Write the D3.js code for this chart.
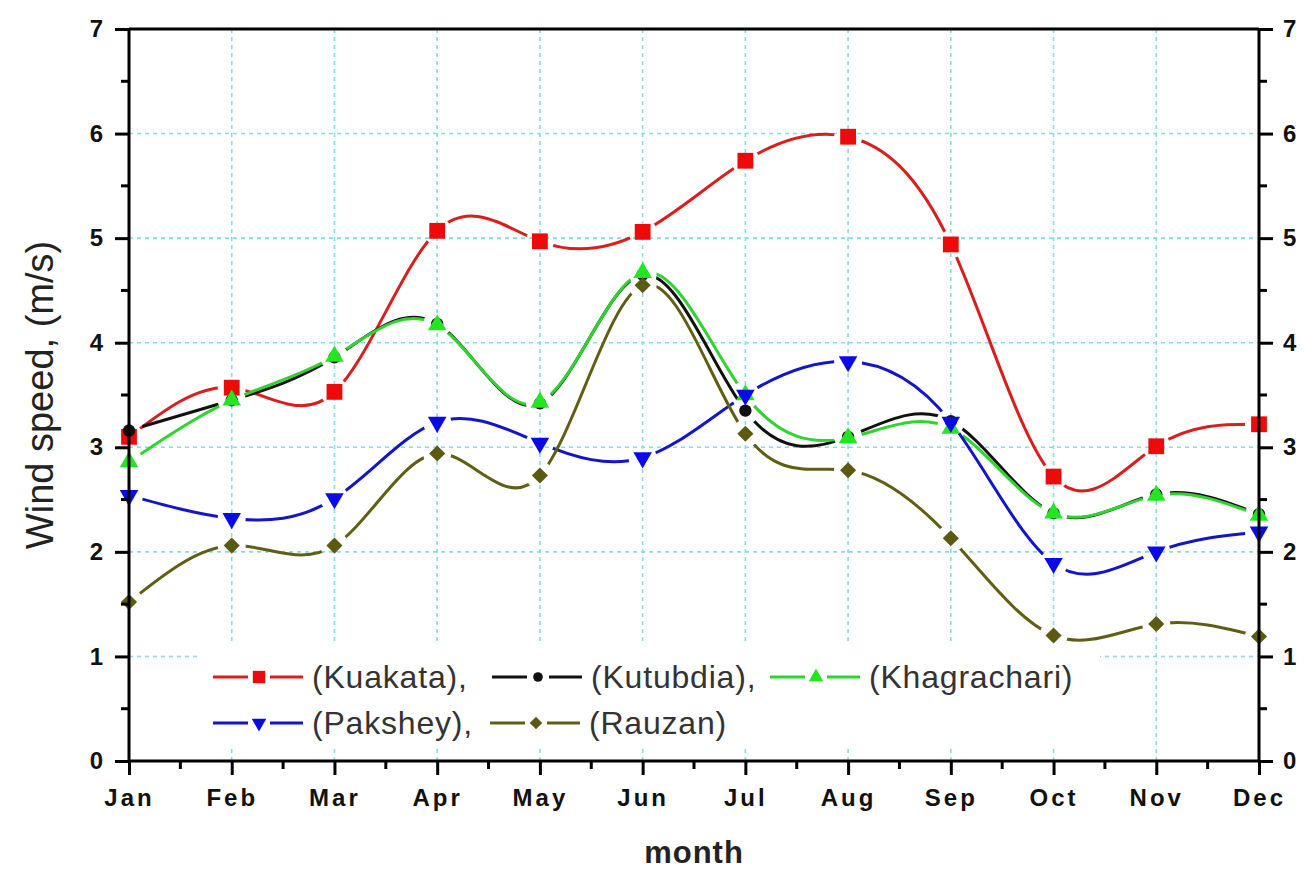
<!DOCTYPE html>
<html>
<head>
<meta charset="utf-8">
<script src="https://cdn.jsdelivr.net/npm/d3@7"></script>
<style>
  body { margin: 0; background: #fff; }
  svg { display: block; font-family: Arial, "Liberation Sans", sans-serif; }
</style>
</head>
<body>
<script>
(function(){

    //chart data
    var months = ["Jan","Feb","Mar","Apr","May","Jun","Jul","Aug","Sep","Oct","Nov","Dec"];
    var kuakata     = [3.10, 3.57, 3.53, 5.07, 4.97, 5.06, 5.74, 5.97, 4.94, 2.72, 3.01, 3.22];
    var kutubdia    = [3.16, 3.45, 3.86, 4.18, 3.42, 4.65, 3.35, 3.10, 3.25, 2.37, 2.55, 2.36];
    var khagrachari = [2.86, 3.45, 3.87, 4.17, 3.43, 4.67, 3.50, 3.09, 3.18, 2.37, 2.54, 2.35];
    var pakshey     = [2.54, 2.32, 2.51, 3.24, 3.04, 2.90, 3.50, 3.82, 3.24, 1.89, 2.00, 2.19];
    var rauzan      = [1.52, 2.06, 2.06, 2.94, 2.73, 4.55, 3.13, 2.78, 2.13, 1.20, 1.31, 1.19];
    var yTicks = [0, 1, 2, 3, 4, 5, 6, 7];
    var seriesNames = ["(Kuakata),", "(Kutubdia),", "(Khagrachari)", "(Pakshey),", "(Rauzan)"];

    //series styles (draw order: red, black, green, blue, olive)
    var series = [
        {name: seriesNames[0], values: kuakata,     line: "#d91e1e", fill: "#ee0a0a", shape: "square"},
        {name: seriesNames[1], values: kutubdia,    line: "#111111", fill: "#111111", shape: "circle"},
        {name: seriesNames[2], values: khagrachari, line: "#2fd42f", fill: "#22e622", shape: "up"},
        {name: seriesNames[3], values: pakshey,     line: "#1414c8", fill: "#0a0ae6", shape: "down"},
        {name: seriesNames[4], values: rauzan,      line: "#5f5f14", fill: "#5a5a12", shape: "diamond"}
    ];

    var width = 1305, height = 871;
    var left = 129, right = 1259, top = 29, bottom = 761;

    var svg = d3.select("body").append("svg")
        .attr("width", width)
        .attr("height", height);

    var x = d3.scalePoint().domain(months).range([left, right]);
    var y = d3.scaleLinear().domain([0, 7]).range([bottom, top]);

    //marker paths
    function symbolPath(shape, big){
        var k = big ? 1 : 0.78;
        if (shape == "square") return d3.symbol(d3.symbolSquare, 250 * k * k)();
        if (shape == "circle") return d3.symbol(d3.symbolCircle, 120 * k * k)();
        if (shape == "diamond") return d3.symbol(d3.symbolSquare, 130 * k * k)();
        return d3.symbol(d3.symbolTriangle, 150 * k * k)();
    }
    function symbolRotate(shape){
        if (shape == "down") return 180;
        if (shape == "diamond") return 45;
        return 0;
    }

    //grid lines
    var grid = svg.append("g").attr("class", "grid")
        .attr("stroke", "#86dde6")
        .attr("stroke-width", 1.6)
        .attr("stroke-dasharray", "4,4");
    grid.selectAll(".hgrid")
        .data(yTicks.filter(function(d){ return d > 0 && d < 7; }))
        .enter().append("line")
        .attr("x1", left).attr("x2", right)
        .attr("y1", function(d){ return y(d); })
        .attr("y2", function(d){ return y(d); });
    grid.selectAll(".vgrid")
        .data(months.slice(1, 11))
        .enter().append("line")
        .attr("y1", top).attr("y2", bottom)
        .attr("x1", function(d){ return x(d); })
        .attr("x2", function(d){ return x(d); });

    //legend background box (covers grid)
    svg.append("rect")
        .attr("x", 200).attr("y", 643)
        .attr("width", 900).attr("height", 104)
        .attr("fill", "#fff");

    //series lines with gaps around markers
    var line = d3.line()
        .x(function(d, i){ return x(months[i]); })
        .y(function(d){ return y(d); })
        .curve(d3.curveNatural);

    var defs = svg.append("defs");
    series.forEach(function(s, si){
        var mask = defs.append("mask").attr("id", "gap" + si)
            .attr("maskUnits", "userSpaceOnUse")
            .attr("x", 0).attr("y", 0).attr("width", width).attr("height", height);
        mask.append("rect").attr("width", width).attr("height", height).attr("fill", "#fff");
        mask.selectAll("circle").data(s.values).enter().append("circle")
            .attr("cx", function(d, i){ return x(months[i]); })
            .attr("cy", function(d){ return y(d); })
            .attr("r", 14)
            .attr("fill", "#000");
    });

    series.forEach(function(s, si){
        var g = svg.append("g").attr("class", "series");
        g.append("path")
            .datum(s.values)
            .attr("d", line)
            .attr("fill", "none")
            .attr("stroke", s.line)
            .attr("stroke-width", 3)
            .attr("mask", "url(#gap" + si + ")");
        g.selectAll(".pt").data(s.values).enter().append("path")
            .attr("class", "pt")
            .attr("d", symbolPath(s.shape, true))
            .attr("fill", s.fill)
            .attr("transform", function(d, i){
                return "translate(" + x(months[i]) + "," + y(d) + ") rotate(" + symbolRotate(s.shape) + ")";
            });
    });

    //frame: top line
    svg.append("line")
        .attr("x1", left).attr("x2", right)
        .attr("y1", top).attr("y2", top)
        .attr("stroke", "#000").attr("stroke-width", 3);

    //axes
    var minorY = d3.range(0.5, 7, 1);
    var minorX = d3.range(0, 11).map(function(i){ return (x(months[i]) + x(months[i + 1])) / 2; });

    var yLeft = svg.append("g")
        .attr("transform", "translate(" + left + ",0)")
        .call(d3.axisLeft(y).tickValues(yTicks).tickSize(14).tickPadding(12).tickFormat(d3.format("d")));
    var yRight = svg.append("g")
        .attr("transform", "translate(" + right + ",0)")
        .call(d3.axisRight(y).tickValues(yTicks).tickSize(14).tickPadding(10).tickFormat(d3.format("d")));
    var xBottom = svg.append("g")
        .attr("transform", "translate(0," + bottom + ")")
        .call(d3.axisBottom(x).tickSize(14).tickPadding(14));

    [yLeft, yRight, xBottom].forEach(function(ax){
        ax.select(".domain").attr("stroke-width", 3).attr("d", null);
        ax.selectAll(".tick line").attr("stroke-width", 3);
        ax.selectAll(".tick text")
            .attr("fill", "#111")
            .style("font-size", "24px")
            .style("font-weight", "bold");
    });
    xBottom.selectAll(".tick text").style("letter-spacing", "3px");

    //axis lines drawn explicitly
    svg.append("line").attr("x1", left).attr("x2", left).attr("y1", top).attr("y2", bottom)
        .attr("stroke", "#000").attr("stroke-width", 3);
    svg.append("line").attr("x1", right).attr("x2", right).attr("y1", top).attr("y2", bottom)
        .attr("stroke", "#000").attr("stroke-width", 3);
    svg.append("line").attr("x1", left).attr("x2", right).attr("y1", bottom).attr("y2", bottom)
        .attr("stroke", "#000").attr("stroke-width", 3);

    //minor ticks
    yLeft.selectAll(".minor").data(minorY).enter().append("line")
        .attr("x1", 0).attr("x2", -8)
        .attr("y1", function(d){ return y(d); }).attr("y2", function(d){ return y(d); })
        .attr("stroke", "#000").attr("stroke-width", 3);
    yRight.selectAll(".minor").data(minorY).enter().append("line")
        .attr("x1", 0).attr("x2", 8)
        .attr("y1", function(d){ return y(d); }).attr("y2", function(d){ return y(d); })
        .attr("stroke", "#000").attr("stroke-width", 3);
    xBottom.selectAll(".minor").data(minorX).enter().append("line")
        .attr("y1", 0).attr("y2", 8)
        .attr("x1", function(d){ return d; }).attr("x2", function(d){ return d; })
        .attr("stroke", "#000").attr("stroke-width", 3);

    //axis titles
    svg.append("text")
        .attr("transform", "translate(53," + (top + bottom) / 2 + ") rotate(-90)")
        .attr("text-anchor", "middle")
        .attr("fill", "#222")
        .style("font-size", "38px")
        .text("Wind speed, (m/s)");
    svg.append("text")
        .attr("x", 694).attr("y", 863)
        .attr("text-anchor", "middle")
        .attr("fill", "#222")
        .style("font-size", "31px")
        .style("font-weight", "bold")
        .style("letter-spacing", "1px")
        .text("month");

    //legend
    var legendPos = [[213, 677], [492, 677], [770, 677], [213, 723], [490, 723]];
    series.forEach(function(s, si){
        var lx = legendPos[si][0], ly = legendPos[si][1];
        var lg = svg.append("g").attr("class", "legend")
            .attr("transform", "translate(" + lx + "," + ly + ")");
        lg.selectAll(".seg").data([[0, 35], [57, 90]]).enter().append("line")
            .attr("x1", function(d){ return d[0]; }).attr("x2", function(d){ return d[1]; })
            .attr("stroke", s.line).attr("stroke-width", 3);
        lg.append("path")
            .attr("d", symbolPath(s.shape, false))
            .attr("fill", s.fill)
            .attr("transform", "translate(46,0) rotate(" + symbolRotate(s.shape) + ")");
        lg.append("text")
            .attr("x", 99).attr("y", 11)
            .attr("fill", "#333")
            .style("font-size", "32px")
            .style("letter-spacing", "0.8px")
            .text(s.name);
    });

})();
</script>
</body>
</html>
